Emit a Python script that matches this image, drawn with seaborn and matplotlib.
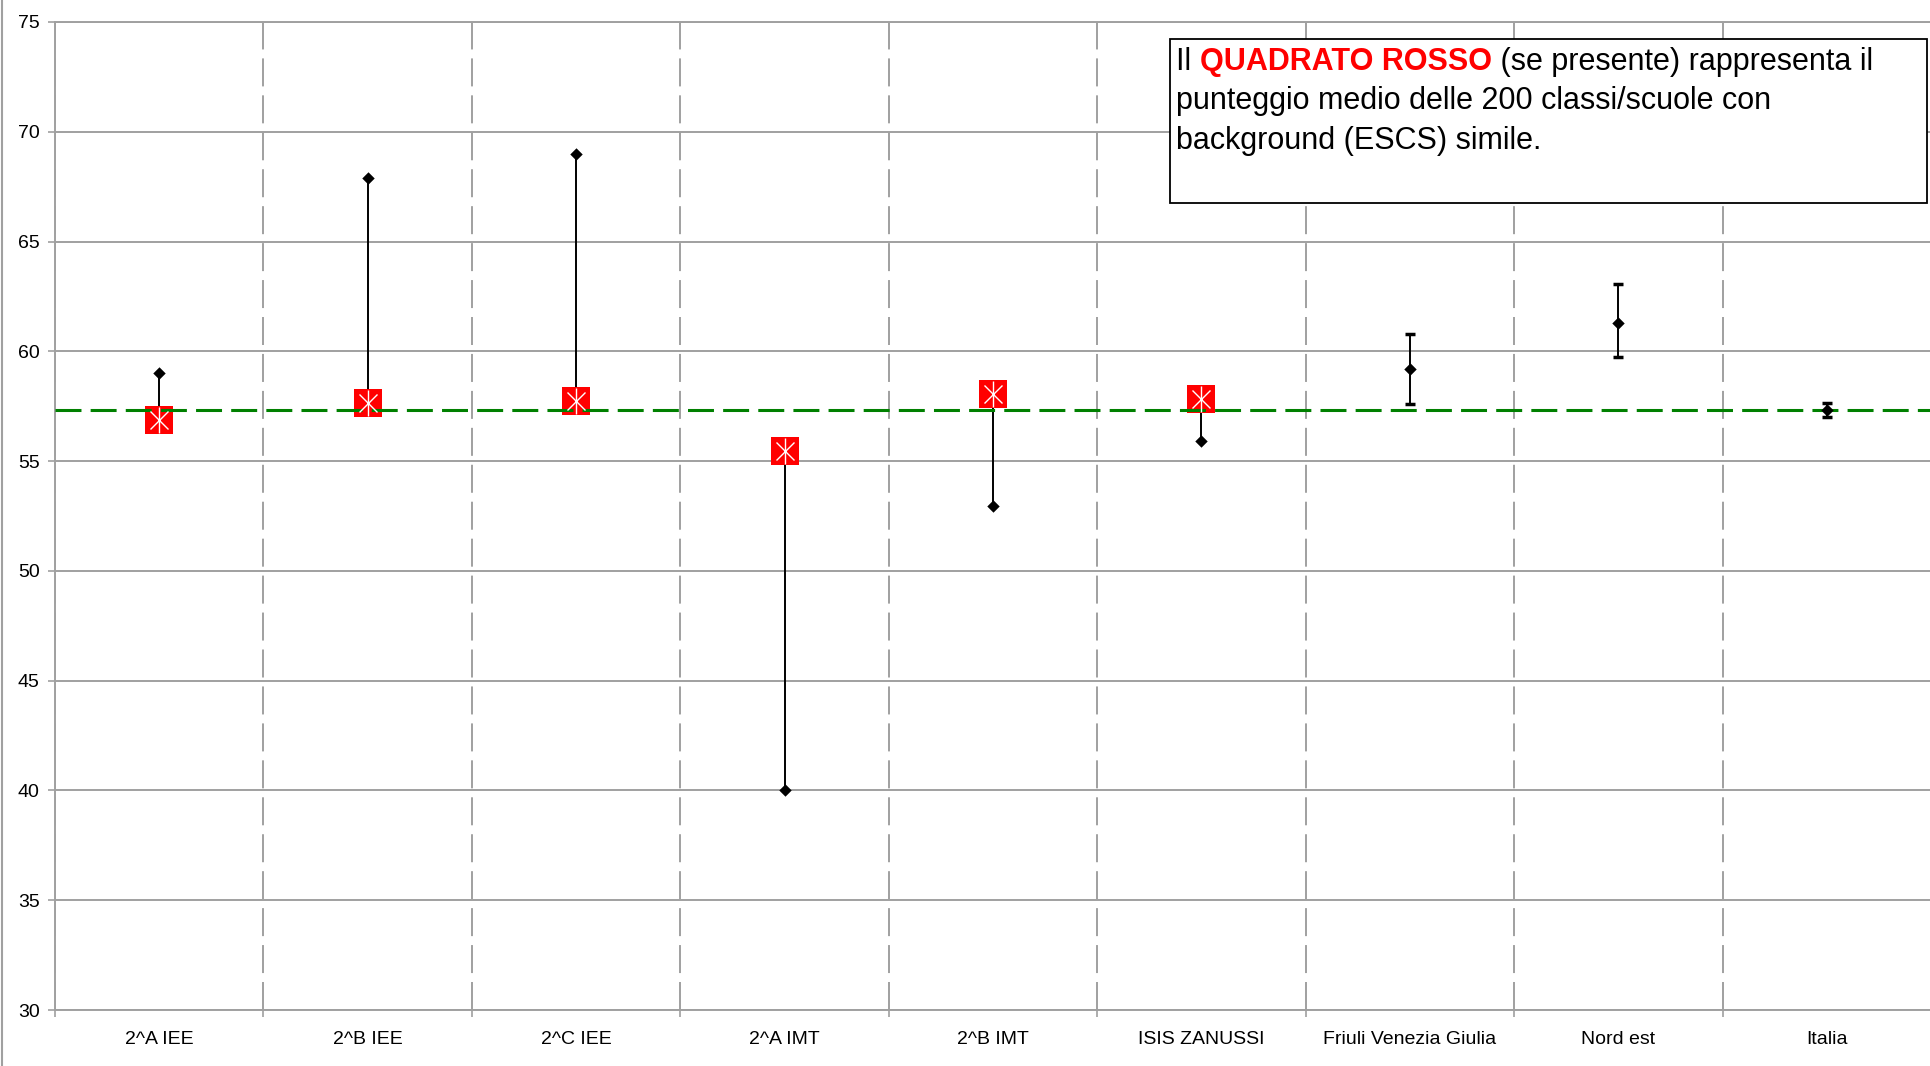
import matplotlib
matplotlib.use("Agg")
import matplotlib.pyplot as plt
import seaborn as sns
import numpy as np
import pandas as pd
from matplotlib.patches import Rectangle
from matplotlib.lines import Line2D


# Dati

categorie = ["2^A IEE", "2^B IEE", "2^C IEE", "2^A IMT", "2^B IMT", "ISIS ZANUSSI",
             "Friuli Venezia Giulia", "Nord est", "Italia"]
punteggio = [59.0, 67.9, 69.0, 40.0, 52.95, 55.9, 59.2, 61.3, 57.33]
escs_simile = [56.87, 57.66, 57.72, 55.47, 58.05, 57.83, np.nan, np.nan, np.nan]
ic_inf = [np.nan] * 6 + [57.6, 59.75, 57.0]
ic_sup = [np.nan] * 6 + [60.8, 63.05, 57.64]
media_italia = 57.33
y_ticks = list(range(30, 76, 5))

GRIGIO = "#a0a0a0"

sns.set_theme(style="white")
plt.rcParams['font.family'] = ['Liberation Sans', 'DejaVu Sans']

df = pd.DataFrame({
    "categoria": categorie,
    "pos": np.arange(len(categorie)),
    "punteggio": punteggio,
    "escs": escs_simile,
    "inf": ic_inf,
    "sup": ic_sup,
})
classi = df[df["escs"].notna()]
aree = df[df["escs"].isna()]

W, H = 1930, 1066
fig = plt.figure(figsize=(W / 100, H / 100), dpi=100)
ax = fig.add_axes([55 / W, 56 / H, 1876 / W, 988 / H])


# Linee e barre di errore

ax.vlines(classi["pos"], classi["escs"], classi["punteggio"], color="black", lw=1.4, zorder=3)
ax.errorbar(aree["pos"], aree["punteggio"],
            yerr=[aree["punteggio"] - aree["inf"], aree["sup"] - aree["punteggio"]],
            fmt="none", ecolor="black", elinewidth=1.4, capsize=3.5, capthick=2.5, zorder=3)

# Quadrati rossi (ESCS simile)
sns.scatterplot(data=classi, x="pos", y="escs", marker="s", s=420, color="#ff0000",
                linewidth=0, zorder=5, ax=ax, legend=False)

ax.axhline(media_italia, color="#008000", lw=2.2, ls=(0, (8.5, 3)), zorder=5.5)

ax.plot(classi["pos"], classi["escs"], ls="none", marker="x", ms=13, mec="white", mew=1, zorder=6)
ax.plot(classi["pos"], classi["escs"], ls="none", marker="|", ms=19, mec="white", mew=1, zorder=6)

# Rombi neri (punteggio)
sns.scatterplot(data=df, x="pos", y="punteggio", marker="D", s=40, color="black",
                linewidth=0, zorder=6.5, ax=ax, legend=False)


# Assi

ax.set_xlim(-0.5, len(categorie) - 0.5)
ax.set_ylim(30, 75)
ax.set_yticks(y_ticks)
ax.set_xticks(df["pos"], categorie)
ax.set_xticks(np.arange(-0.5, len(categorie), 1), minor=True)
ax.set_xlabel("")
ax.set_ylabel("")

ax.grid(axis="y", which="major", color=GRIGIO, lw=1.4, ls="-")
ax.grid(axis="x", which="minor", color=GRIGIO, lw=1.4, ls=(0, (14.4, 4.6)))
ax.set_axisbelow(True)

ax.tick_params(axis="x", which="major", length=0, pad=15, labelsize=14, labelcolor="black")
ax.tick_params(axis="x", which="minor", length=5, width=1.2, color=GRIGIO, direction="out")
ax.tick_params(axis="y", length=5, width=1.2, color=GRIGIO, direction="out", pad=6,
               labelsize=14, labelcolor="black")
ax.tick_params(bottom=True, left=True, which="both")
ax.tick_params(axis="x", which="major", bottom=False)

for lato in ["left", "bottom", "top"]:
    ax.spines[lato].set_color(GRIGIO)
    ax.spines[lato].set_linewidth(1.4)
ax.spines["right"].set_visible(False)

fig.add_artist(Line2D([2 / W, 2 / W], [0, 1], transform=fig.transFigure, color=GRIGIO, lw=1.5))


# Riquadro di testo

box = Rectangle((1170 / W, 1 - 203 / H), 757 / W, 164 / H, transform=fig.transFigure,
                facecolor="white", edgecolor="black", lw=1.3, zorder=10, clip_on=False)
ax.add_patch(box)

fs = 22
x0 = 1176 / W
t1 = ax.text(x0, 1 - 70 / H, "Il ", transform=fig.transFigure, fontsize=fs,
             va="baseline", ha="left", color="black", zorder=11)
t2 = ax.annotate("QUADRATO ROSSO", xy=(1, 0), xycoords=t1, va="bottom", ha="left",
                 fontsize=fs, fontweight="bold", color="#ff0000", zorder=11, annotation_clip=False)
ax.annotate(" (se presente) rappresenta il", xy=(1, 0), xycoords=t2, va="bottom", ha="left",
            fontsize=fs, color="black", zorder=11, annotation_clip=False)
ax.text(x0, 1 - 109.5 / H, "punteggio medio delle 200 classi/scuole con", transform=fig.transFigure,
        fontsize=fs, va="baseline", ha="left", color="black", zorder=11)
ax.text(x0, 1 - 149 / H, "background (ESCS) simile.", transform=fig.transFigure,
        fontsize=fs, va="baseline", ha="left", color="black", zorder=11)

plt.savefig("out.png", dpi=100)
